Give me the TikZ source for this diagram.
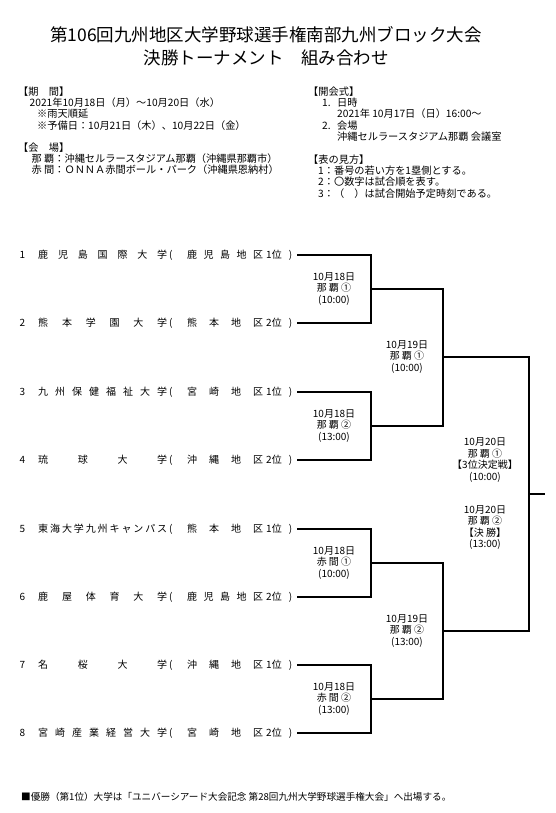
\documentclass[tikz,border=0pt]{standalone}
\usepackage{fontspec}
\setmainfont{Noto Sans CJK JP}

% spread characters evenly over a fixed width
\newcommand{\spreadtext}[2]{\makebox[#1][s]{\foreach \ch [count=\k] in {#2}{\ifnum\k>1 \hfill\fi\ch}}}
\newcommand{\teamline}[4]{%
  \makebox[18.5pt][l]{#1}%
  \spreadtext{129pt}{#2}%
  \makebox[20pt][l]{\hspace{2pt}(}%
  \spreadtext{76pt}{#3}%
  \hspace{3pt}%
  \makebox[31pt][l]{#4位\hfill)\hspace{5pt}}}

\begin{document}
\begin{tikzpicture}[x=1pt,y=-1pt,
  heading/.style={align=center,inner sep=0pt,font=\fontsize{17.5}{23}\selectfont},
  info/.style={anchor=north west,align=left,inner sep=0pt,font=\fontsize{10.2}{11.3}\selectfont},
  team/.style={anchor=west,inner sep=0pt,font=\fontsize{10}{12}\selectfont},
  match/.style={align=center,inner sep=0pt,font=\fontsize{10}{11.5}\selectfont},
  bracket/.style={line width=1.1pt}]
  \useasboundingbox (0,0) rectangle (555,813);

  % title and notes
  \node[heading] (title) at (266,46.5) {第106回九州地区大学野球選手権南部九州ブロック大会\\決勝トーナメント　組み合わせ};
  \node[info] (period) at (18,86.5) {【期　間】\\
    \hspace*{11.5pt}2021年10月18日（月）～10月20日（水）\\
    \hspace*{19pt}※雨天順延\\
    \hspace*{19pt}※予備日：10月21日（木）、10月22日（金）};
  \node[info] (venue) at (18,142.5) {【会　場】\\
    \hspace*{13.5pt}那 覇：沖縄セルラースタジアム那覇（沖縄県那覇市）\\
    \hspace*{13.5pt}赤 間：ＯＮＮＡ赤間ボール・パーク（沖縄県恩納村）};
  \node[info] (ceremony) at (308,86.5) {【開会式】\\
    \hspace*{14pt}\makebox[15pt][l]{1.}日時\\
    \hspace*{29pt}2021年 10月17日（日）16:00～\\
    \hspace*{14pt}\makebox[15pt][l]{2.}会場\\
    \hspace*{29pt}沖縄セルラースタジアム那覇 会議室};
  \node[info] (legend) at (308,154.3) {【表の見方】\\
    \hspace*{10pt}1：番号の若い方を1塁側とする。\\
    \hspace*{10pt}2：〇数字は試合順を表す。\\
    \hspace*{10pt}3：（　）は試合開始予定時刻である。};
  \node[info,anchor=west,font=\fontsize{9.6}{11}\selectfont] (note) at (21,797) {■優勝（第1位）大学は「ユニバーシアード大会記念 第28回九州大学野球選手権大会」へ出場する。};

  % teams
  \node[team] (n1) at (19.5,255) {\teamline{1}{鹿,児,島,国,際,大,学}{鹿,児,島,地,区}{1}};
  \node[team] (n2) at (19.5,323) {\teamline{2}{熊,本,学,園,大,学}{熊,本,地,区}{2}};
  \node[team] (n3) at (19.5,392) {\teamline{3}{九,州,保,健,福,祉,大,学}{宮,崎,地,区}{1}};
  \node[team] (n4) at (19.5,460) {\teamline{4}{琉,球,大,学}{沖,縄,地,区}{2}};
  \node[team] (n5) at (19.5,529) {\teamline{5}{東,海,大,学,九,州,キ,ャ,ン,パ,ス}{熊,本,地,区}{1}};
  \node[team] (n6) at (19.5,597) {\teamline{6}{鹿,屋,体,育,大,学}{鹿,児,島,地,区}{2}};
  \node[team] (n7) at (19.5,665) {\teamline{7}{名,桜,大,学}{沖,縄,地,区}{1}};
  \node[team] (n8) at (19.5,733) {\teamline{8}{宮,崎,産,業,経,営,大,学}{宮,崎,地,区}{2}};

  % bracket joints
  \coordinate (j1) at (371,289);
  \coordinate (j2) at (371,426);
  \coordinate (j3) at (371,563);
  \coordinate (j4) at (371,699);
  \coordinate (k1) at (443,357);
  \coordinate (k2) at (443,631);
  \coordinate (fin) at (529,494);
  \coordinate (champ) at (545,494);

  \draw[bracket] (n1.east) -| (j1) |- (n2.east);
  \draw[bracket] (n3.east) -| (j2) |- (n4.east);
  \draw[bracket] (n5.east) -| (j3) |- (n6.east);
  \draw[bracket] (n7.east) -| (j4) |- (n8.east);
  \draw[bracket] (j1) -| (k1) |- (j2);
  \draw[bracket] (j3) -| (k2) |- (j4);
  \draw[bracket] (k1) -| (fin) |- (k2);
  \draw[bracket] (fin) -- (champ);

  % match labels
  \node[match] (m1) at (334,289) {10月18日\\那 覇 ①\\(10:00)};
  \node[match] (m2) at (334,426) {10月18日\\那 覇 ②\\(13:00)};
  \node[match] (m3) at (334,563) {10月18日\\赤 間 ①\\(10:00)};
  \node[match] (m4) at (334,699) {10月18日\\赤 間 ②\\(13:00)};
  \node[match] (s1) at (407,357) {10月19日\\那 覇 ①\\(10:00)};
  \node[match] (s2) at (407,631) {10月19日\\那 覇 ②\\(13:00)};
  \node[match] (f1) at (485,460) {10月20日\\那 覇 ①\\【3位決定戦】\\(10:00)};
  \node[match] (f2) at (485,527.5) {10月20日\\那 覇 ②\\【決 勝】\\(13:00)};
\end{tikzpicture}
\end{document}
